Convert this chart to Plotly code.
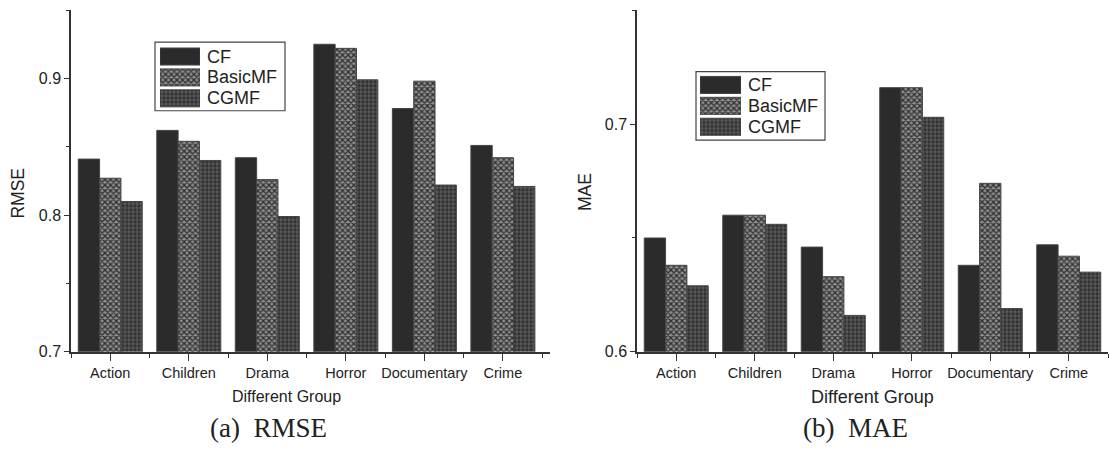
import plotly.graph_objects as go

# Groups and methods
categories = ["Action", "Children", "Drama", "Horror", "Documentary", "Crime"]
methods = ["CF", "BasicMF", "CGMF"]

# RMSE per group
rmse_cf = [0.841, 0.862, 0.842, 0.925, 0.878, 0.851]
rmse_basicmf = [0.827, 0.854, 0.826, 0.922, 0.898, 0.842]
rmse_cgmf = [0.810, 0.840, 0.799, 0.899, 0.822, 0.821]

# MAE per group
mae_cf = [0.650, 0.660, 0.646, 0.716, 0.638, 0.647]
mae_basicmf = [0.638, 0.660, 0.633, 0.716, 0.674, 0.642]
mae_cgmf = [0.629, 0.656, 0.616, 0.703, 0.619, 0.635]

W, H = 1109, 452


def px_x(v):
    return v / W


def px_y(v):
    return 1 - v / H


LINE = dict(color="#454545", width=1)
STYLES = {
    "CF": dict(color="#2b2b2b", line=LINE),
    "BasicMF": dict(color="#8c8c8c", line=LINE,
                    pattern=dict(shape="x", fgcolor="#303030", bgcolor="#8e8e8e",
                                 size=4, solidity=0.55, fillmode="replace")),
    "CGMF": dict(color="#333333", line=LINE,
                 pattern=dict(shape="+", fgcolor="#8a8a8a", bgcolor="#313131",
                              size=4, solidity=0.22, fillmode="replace")),
}

TEXT = "#222222"
SANS = "Liberation Sans, Arial, sans-serif"
SERIF = "Liberation Serif, Times New Roman, serif"

fig = go.Figure()

idx = list(range(len(categories)))
panels = [
    ("x", "y", [rmse_cf, rmse_basicmf, rmse_cgmf]),
    ("x2", "y2", [mae_cf, mae_basicmf, mae_cgmf]),
]
for xa, ya, series in panels:
    for name, vals in zip(methods, series):
        fig.add_trace(go.Bar(x=idx, y=vals, name=name, xaxis=xa, yaxis=ya,
                             marker=STYLES[name], showlegend=False,
                             hoverinfo="skip"))

# Legend swatches drawn as bars on small hidden axes
for xa, ya in [("x3", "y3"), ("x4", "y4")]:
    for name in methods:
        fig.add_trace(go.Bar(x=[1], y=[name], orientation="h", xaxis=xa, yaxis=ya,
                             marker=STYLES[name], offsetgroup="swatch",
                             showlegend=False, hoverinfo="skip"))

axis_common = dict(
    showline=True, linecolor="#333333", linewidth=1.5, showgrid=False,
    zeroline=False, ticks="outside", tickcolor="#333333", tickwidth=1.2,
    tickfont=dict(family=SANS, size=14.5, color=TEXT),
)

x_common = dict(axis_common, tickmode="array", tickvals=idx, ticktext=categories,
                ticklen=7,
                minor=dict(ticks="outside", ticklen=4, tick0=0.5, dtick=1,
                           tickcolor="#333333", tickwidth=1.2))

y_common = dict(axis_common, ticklen=5, dtick=0.1,
                tickfont=dict(family=SANS, size=16, color=TEXT),
                minor=dict(ticks="outside", ticklen=3, dtick=0.05,
                           tickcolor="#333333", tickwidth=1.2))

hidden = dict(visible=False, showgrid=False, zeroline=False, fixedrange=True)

fig.update_layout(
    width=W, height=H, autosize=False,
    margin=dict(l=0, r=0, t=0, b=0),
    paper_bgcolor="white", plot_bgcolor="white",
    barmode="group", bargap=0.185, bargroupgap=0,
    xaxis=dict(x_common, domain=[px_x(71), px_x(550)], range=[-0.5, 5.6], anchor="y"),
    yaxis=dict(y_common, domain=[px_y(359), px_y(10)], range=[0.7, 0.9502],
               tick0=0.7, anchor="x"),
    xaxis2=dict(x_common, domain=[px_x(637), px_x(1108)], range=[-0.5, 5.5], anchor="y2"),
    yaxis2=dict(y_common, domain=[px_y(359), px_y(10)], range=[0.6, 0.7502],
                tick0=0.6, anchor="x2"),
    xaxis3=dict(hidden, domain=[px_x(160), px_x(200)], range=[0, 1], anchor="y3"),
    yaxis3=dict(hidden, domain=[px_y(111), px_y(47)], autorange="reversed",
                type="category", anchor="x3"),
    xaxis4=dict(hidden, domain=[px_x(700), px_x(741)], range=[0, 1], anchor="y4"),
    yaxis4=dict(hidden, domain=[px_y(140), px_y(76)], autorange="reversed",
                type="category", anchor="x4"),
)

# Legend frames
for x0, x1, y0, y1 in [(155, 285, 43, 113), (696, 825, 73, 143)]:
    fig.add_shape(type="rect", xref="paper", yref="paper",
                  x0=px_x(x0), x1=px_x(x1), y0=px_y(y1), y1=px_y(y0),
                  line=dict(color="#444444", width=1.2), fillcolor="rgba(0,0,0,0)")

# Legend labels
for tx, top in [(205, 47), (746, 76)]:
    for i, name in enumerate(methods):
        fig.add_annotation(x=px_x(tx), y=px_y(top + 21.33 * (i + 0.5)),
                           xref="paper", yref="paper", text=name, showarrow=False,
                           xanchor="left", yanchor="middle",
                           font=dict(family=SANS, size=18, color=TEXT))

# Axis titles and panel captions
texts = [
    ("RMSE", 18.5, 197, 17.5, SANS, -90),
    ("MAE", 585, 196, 17.5, SANS, -90),
    ("Different Group", 286, 405, 16, SANS, 0),
    ("Different Group", 872, 405, 18, SANS, 0),
    ("(a)\u00a0 RMSE", 268, 437, 27, SERIF, 0),
    ("(b)\u00a0 MAE", 855, 437, 27, SERIF, 0),
]
for t, cx, cy, size, fam, ang in texts:
    fig.add_annotation(x=px_x(cx), y=px_y(cy), xref="paper", yref="paper",
                       text=t, showarrow=False, textangle=ang,
                       xanchor="center", yanchor="middle",
                       font=dict(family=fam, size=size, color=TEXT))

fig.write_html("out.html")
